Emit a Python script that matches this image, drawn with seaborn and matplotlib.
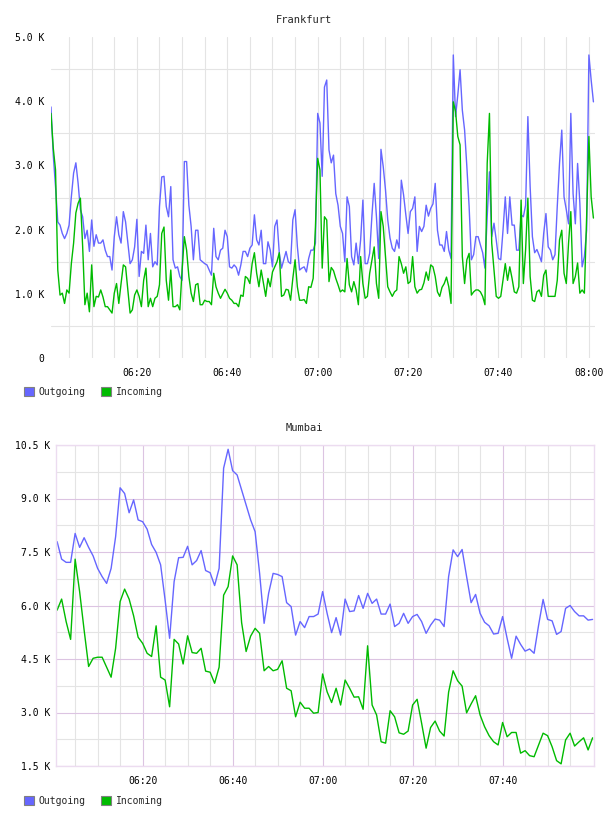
import pandas as pd
import matplotlib
matplotlib.use("Agg")
import matplotlib.pyplot as plt
import matplotlib.dates as mdates
from matplotlib.patches import Patch
from matplotlib.ticker import FuncFormatter
import seaborn as sns

# traffic in K, Frankfurt sampled every 30 s, Mumbai every minute, both from 06:01
fra_out = [
    3.91, 3.16, 2.67, 2.12, 2.07, 1.94, 1.86, 1.94, 2.07, 2.51,
    2.88, 3.04, 2.72, 2.31, 2.20, 1.86, 1.99, 1.66, 2.15, 1.74,
    1.92, 1.79, 1.79, 1.84, 1.68, 1.58, 1.58, 1.37, 1.89, 2.20,
    1.92, 1.79, 2.28, 2.12, 1.79, 1.47, 1.53, 1.73, 2.16, 1.27,
    1.66, 1.63, 2.07, 1.53, 1.94, 1.42, 1.50, 1.45, 2.36, 2.82,
    2.83, 2.36, 2.20, 2.67, 1.53, 1.40, 1.42, 1.27, 1.21, 3.06,
    3.06, 2.38, 2.05, 1.53, 1.99, 1.99, 1.53, 1.50, 1.47, 1.45,
    1.37, 1.29, 2.02, 1.58, 1.53, 1.68, 1.71, 1.99, 1.89, 1.42,
    1.40, 1.45, 1.41, 1.29, 1.45, 1.66, 1.66, 1.58, 1.71, 1.76,
    2.23, 1.84, 1.76, 1.99, 1.47, 1.47, 1.81, 1.68, 1.42, 2.05,
    2.15, 1.64, 1.40, 1.53, 1.66, 1.50, 1.47, 2.15, 2.31, 1.74,
    1.37, 1.40, 1.42, 1.34, 1.55, 1.68, 1.68, 1.79, 3.81, 3.66,
    2.83, 4.22, 4.33, 3.24, 3.04, 3.16, 2.56, 2.38, 2.05, 1.94,
    1.50, 2.51, 2.36, 1.58, 1.45, 1.79, 1.47, 1.84, 2.46, 1.47,
    1.47, 1.63, 2.22, 2.72, 2.20, 1.55, 3.25, 2.98, 2.62, 2.15,
    1.87, 1.71, 1.66, 1.84, 1.71, 2.77, 2.54, 2.23, 1.94, 2.28,
    2.33, 2.51, 1.66, 2.05, 1.97, 2.05, 2.38, 2.21, 2.33, 2.40,
    2.72, 1.99, 1.76, 1.76, 1.66, 1.97, 1.68, 1.55,
    4.72, 3.76, 4.10, 4.49, 3.86, 3.55, 2.98, 2.36, 1.53, 1.61,
    1.89, 1.89, 1.76, 1.64, 1.40, 2.20, 2.90, 1.89, 2.10, 1.84,
    1.55, 1.53, 1.99, 2.51, 1.94, 2.51, 2.07, 2.07, 1.68, 1.68,
    2.23, 2.20, 2.38, 3.76, 2.67, 1.89, 1.64, 1.69, 1.60, 1.50,
    1.94, 2.25, 1.73, 1.68, 1.53, 1.61, 2.36, 3.03, 3.55, 2.51,
    2.31, 2.09, 3.81, 2.56, 2.09, 3.03, 2.41, 1.42, 1.58, 1.99,
    4.72, 4.33, 3.99,
]
fra_in = [
    3.81, 3.27, 2.93, 1.37, 0.98, 1.01, 0.85, 1.06, 1.01, 1.47,
    1.79, 2.26, 2.41, 2.49, 1.74, 0.83, 1.01, 0.72, 1.45, 0.80,
    0.96, 0.95, 1.06, 0.95, 0.80, 0.80, 0.75, 0.70, 1.01, 1.16,
    0.85, 1.16, 1.45, 1.42, 1.06, 0.70, 0.75, 0.98, 1.06, 0.96,
    0.80, 1.21, 1.40, 0.80, 0.93, 0.80, 0.93, 0.96, 1.14, 1.94,
    2.04, 1.21, 0.90, 1.37, 0.80, 0.80, 0.83, 0.75, 1.37, 1.89,
    1.68, 1.27, 1.01, 0.88, 1.14, 1.16, 0.83, 0.83, 0.90, 0.88,
    0.88, 0.83, 1.32, 1.11, 1.01, 0.93, 1.00, 1.07, 1.01, 0.93,
    0.90, 0.85, 0.85, 0.80, 0.98, 0.96, 1.27, 1.24, 1.16, 1.47,
    1.64, 1.32, 1.11, 1.37, 1.16, 0.96, 1.24, 1.11, 1.34, 1.42,
    1.50, 1.64, 0.96, 0.98, 1.07, 1.06, 0.90, 1.24, 1.53, 1.11,
    0.90, 0.90, 0.91, 0.85, 1.11, 1.10, 1.24, 2.04, 3.11, 2.93,
    1.40, 2.20, 2.15, 1.19, 1.41, 1.36, 1.24, 1.14, 1.03, 1.06,
    1.03, 1.55, 1.14, 1.03, 1.19, 1.06, 0.83, 1.58, 1.16, 0.93,
    0.96, 1.32, 1.53, 1.73, 1.16, 0.93, 2.28, 2.05, 1.58, 1.11,
    1.03, 0.96, 1.03, 1.06, 1.58, 1.47, 1.32, 1.42, 1.16, 1.19,
    1.58, 1.11, 1.01, 1.06, 1.07, 1.17, 1.34, 1.21, 1.45, 1.42,
    1.27, 1.03, 0.96, 1.10, 1.16, 1.26, 1.11, 0.85,
    3.99, 3.84, 3.45, 3.32, 1.58, 1.16, 1.53, 1.63, 0.98, 1.03,
    1.06, 1.06, 1.03, 0.96, 0.83, 3.03, 3.81, 1.79, 1.37, 0.96,
    0.93, 0.96, 1.21, 1.47, 1.21, 1.42, 1.24, 1.03, 1.01, 1.11,
    2.46, 1.16, 1.69, 2.49, 1.27, 0.90, 0.88, 1.03, 1.06, 0.96,
    1.29, 1.37, 0.96, 0.96, 0.96, 0.96, 1.21, 1.84, 1.99, 1.32,
    1.16, 1.79, 2.28, 1.16, 1.27, 1.48, 1.01, 1.06, 1.01, 2.20,
    3.45, 2.51, 2.18,
]
mum_out = [
    7.79, 7.30, 7.21, 7.21, 8.02, 7.63, 7.90, 7.63, 7.39, 7.04,
    6.81, 6.62, 7.04, 7.93, 9.30, 9.14, 8.60, 8.96, 8.40, 8.35,
    8.14, 7.71, 7.49, 7.14, 6.15, 5.08, 6.67, 7.34, 7.35, 7.66,
    7.14, 7.26, 7.54, 6.98, 6.92, 6.56, 7.04, 9.85, 10.38, 9.78,
    9.66, 9.24, 8.82, 8.40, 8.07, 6.90, 5.50, 6.34, 6.90, 6.87,
    6.81, 6.08, 5.97, 5.17, 5.55, 5.38, 5.69, 5.69, 5.76, 6.39,
    5.78, 5.24, 5.66, 5.17, 6.18, 5.83, 5.85, 6.28, 5.92, 6.34,
    6.06, 6.18, 5.76, 5.76, 6.04, 5.41, 5.50, 5.78, 5.50, 5.69,
    5.75, 5.55, 5.22, 5.45, 5.62, 5.59, 5.41, 6.81, 7.56, 7.37,
    7.57, 6.81, 6.08, 6.31, 5.78, 5.53, 5.43, 5.20, 5.22, 5.69,
    5.08, 4.52, 5.14, 4.91, 4.72, 4.78, 4.66, 5.45, 6.17, 5.61,
    5.57, 5.19, 5.27, 5.92, 6.00, 5.83, 5.71, 5.71, 5.59, 5.61,
]
mum_in = [
    5.87, 6.18, 5.55, 5.05, 7.30, 6.39, 5.31, 4.29, 4.52, 4.55,
    4.55, 4.27, 3.99, 4.80, 6.11, 6.46, 6.18, 5.71, 5.11, 4.94,
    4.66, 4.57, 5.43, 3.99, 3.91, 3.16, 5.05, 4.92, 4.36, 5.15,
    4.68, 4.66, 4.80, 4.16, 4.13, 3.82, 4.27, 6.29, 6.53, 7.39,
    7.14, 5.52, 4.71, 5.14, 5.36, 5.22, 4.17, 4.29, 4.17, 4.21,
    4.45, 3.68, 3.61, 2.88, 3.29, 3.12, 3.12, 2.98, 3.00, 4.08,
    3.58, 3.28, 3.68, 3.21, 3.91, 3.68, 3.43, 3.44, 3.09, 4.87,
    3.21, 2.93, 2.18, 2.14, 3.05, 2.88, 2.43, 2.39, 2.48, 3.21,
    3.37, 2.70, 2.00, 2.58, 2.76, 2.48, 2.34, 3.57, 4.17, 3.89,
    3.74, 2.99, 3.24, 3.47, 2.93, 2.60, 2.35, 2.18, 2.09, 2.72,
    2.32, 2.44, 2.44, 1.86, 1.93, 1.79, 1.76, 2.09, 2.42, 2.35,
    2.04, 1.65, 1.56, 2.23, 2.42, 2.06, 2.18, 2.29, 1.95, 2.29,
]

series_names = ["Outgoing", "Incoming"]
series_colors = ["#6666ff", "#00bb00"]
palette = dict(zip(series_names, series_colors))

day = pd.Timestamp("2024-01-01 06:00")
fra_time = pd.date_range(day + pd.Timedelta(minutes=1), periods=len(fra_out), freq="30s")
mum_time = pd.date_range(day + pd.Timedelta(minutes=1), periods=len(mum_out), freq="1min")


def long_form(times, out, inc):
    n = len(times)
    return pd.DataFrame({
        "time": list(times) * 2,
        "value": list(out) + list(inc),
        "direction": [series_names[0]] * n + [series_names[1]] * n,
    })


def k_label(v, pos):
    return "0" if abs(v) < 1e-9 else f"{v:.1f} K"


def minutes(m):
    return mdates.date2num(day + pd.Timedelta(minutes=m))


sns.set_style("white")
plt.rcParams["font.family"] = ["DejaVu Sans Mono"]

fig = plt.figure(figsize=(6.08, 8.16), dpi=100)
ax1 = fig.add_axes([51 / 608, 1 - 358 / 816, 544 / 608, 321 / 816])
ax2 = fig.add_axes([56 / 608, 1 - 766 / 816, 537.5 / 608, 321 / 816])

grid_grey = "#e4e4e4"
grid_purple = "#dcc4e2"

# ---- Frankfurt
sns.lineplot(data=long_form(fra_time, fra_out, fra_in), x="time", y="value",
             hue="direction", palette=palette, estimator=None, linewidth=1.0,
             legend=False, ax=ax1)
ax1.set_xlim(minutes(1), minutes(121.35))
ax1.set_ylim(0, 5)
ax1.set_xticks([minutes(m) for m in range(20, 121, 20)])
ax1.set_xticks([minutes(m) for m in range(5, 121, 5)], minor=True)
ax1.set_yticks([0, 1, 2, 3, 4, 5])
ax1.set_yticks([0.5, 1.5, 2.5, 3.5, 4.5], minor=True)
ax1.grid(True, which="both", axis="x", color=grid_grey, linewidth=0.8)
ax1.grid(True, which="minor", axis="y", color=grid_grey, linewidth=0.8)
ax1.grid(False, which="major", axis="y")
for s in ax1.spines.values():
    s.set_visible(False)

# ---- Mumbai
sns.lineplot(data=long_form(mum_time, mum_out, mum_in), x="time", y="value",
             hue="direction", palette=palette, estimator=None, linewidth=1.0,
             legend=False, ax=ax2)
ax2.set_xlim(minutes(0.75), minutes(120.2))
ax2.set_ylim(1.5, 10.5)
ax2.set_xticks([minutes(m) for m in range(20, 101, 20)])
ax2.set_xticks([minutes(m) for m in range(5, 120, 5) if m % 20], minor=True)
ax2.set_yticks([1.5, 3.0, 4.5, 6.0, 7.5, 9.0, 10.5])
ax2.set_yticks([2.25, 3.75, 5.25, 6.75, 8.25, 9.75], minor=True)
ax2.grid(True, which="major", color=grid_purple, linewidth=0.8)
ax2.grid(True, which="minor", color=grid_grey, linewidth=0.8)
for s in ax2.spines.values():
    s.set_color("#ecdcf0")
    s.set_linewidth(1.0)

for ax, ypad in [(ax1, 5.0), (ax2, 4.3)]:
    ax.set_axisbelow(True)
    ax.set_xlabel("")
    ax.set_ylabel("")
    ax.xaxis.set_major_formatter(mdates.DateFormatter("%H:%M"))
    ax.yaxis.set_major_formatter(FuncFormatter(k_label))
    ax.tick_params(which="both", length=0, labelsize=7, colors="black")
    ax.tick_params(axis="x", pad=7.5)
    ax.tick_params(axis="y", pad=ypad)

handles = [Patch(facecolor=c, edgecolor="#808080", linewidth=0.8) for c in series_colors]
legend_spots = [(ax1, (24 - 51) / 544, (358 - 392) / 321),
                (ax2, (24 - 56) / 537.5, (766 - 801) / 321)]
for ax, lx, ly in legend_spots:
    ax.legend(handles, series_names, loc="center left", bbox_to_anchor=(lx, ly),
              ncol=2, frameon=False, fontsize=7, handlelength=1.0, handleheight=1.0,
              handletextpad=0.5, columnspacing=1.6, borderpad=0, borderaxespad=0)

fig.text(0.5, 1 - 20 / 816, "Frankfurt", ha="center", va="center", fontsize=7.5)
fig.text(0.5, 1 - 428 / 816, "Mumbai", ha="center", va="center", fontsize=7.5)

fig.savefig("out.png", dpi=100)
